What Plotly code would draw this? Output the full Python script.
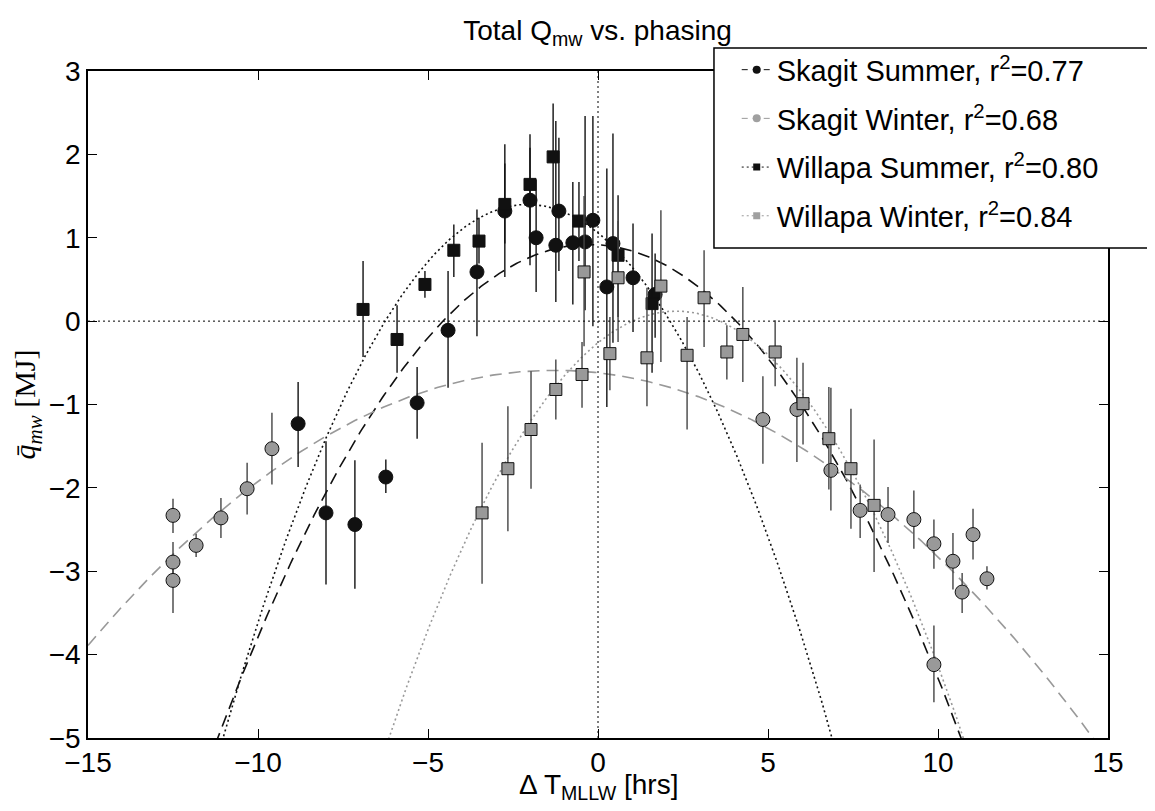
import numpy as np
import plotly.graph_objects as go

# Skagit summer (black circles): x, y, upper / lower end of the error bar
ss_x = [-8.82, -8.00, -7.15, -6.24, -5.32, -4.41, -3.56, -2.74, -2.00, -1.82,
        -1.24, -1.15, -0.74, -0.38, -0.15, 0.26, 0.44, 1.03, 1.68]
ss_y = [-1.23, -2.30, -2.44, -1.87, -0.98, -0.11, 0.59, 1.32, 1.45, 1.00,
        0.91, 1.32, 0.94, 0.95, 1.21, 0.41, 0.93, 0.52, 0.32]
ss_hi = [-0.73, -1.44, -1.67, -1.66, -0.55, 0.60, 1.34, 2.12, 2.24, 1.70,
         2.40, 2.20, 1.67, 2.46, 2.46, 1.83, 2.25, 1.17, 0.81]
ss_lo = [-1.75, -3.16, -3.21, -2.06, -1.41, -0.80, -0.18, 0.53, 0.67, 0.35,
         0.23, 0.60, 0.20, 0.13, -0.06, -1.03, -0.26, -0.13, -0.20]

# Skagit winter (grey circles)
sw_x = [-12.5, -12.5, -12.5, -11.82, -11.09, -10.32, -9.59, 4.85, 5.85, 6.85,
        7.71, 8.53, 9.29, 9.88, 9.88, 10.44, 10.71, 11.03, 11.44]
sw_y = [-2.33, -2.89, -3.11, -2.69, -2.36, -2.01, -1.53, -1.18, -1.06, -1.79,
        -2.27, -2.32, -2.38, -2.67, -4.12, -2.88, -3.25, -2.56, -3.09]
sw_hi = [-2.13, -2.65, -2.95, -2.55, -2.12, -1.70, -1.10, -0.66, -0.44, -0.80,
         -1.96, -1.99, -2.03, -2.38, -3.65, -2.54, -3.02, -2.25, -2.94]
sw_lo = [-2.54, -3.05, -3.50, -2.83, -2.60, -2.32, -1.96, -1.71, -1.69, -2.27,
         -2.60, -2.66, -2.73, -2.97, -4.57, -3.22, -3.50, -2.86, -3.22]

# Willapa summer (black squares)
ws_x = [-6.91, -5.91, -5.09, -4.24, -3.50, -2.74, -2.00, -1.32, -0.56, 0.59, 1.59]
ws_y = [0.14, -0.22, 0.44, 0.85, 0.96, 1.40, 1.64, 1.97, 1.20, 0.79, 0.21]
ws_hi = [0.72, 0.19, 0.60, 1.16, 1.24, 1.89, 2.08, 2.61, 1.67, 1.51, 1.05]
ws_lo = [-0.43, -0.62, 0.28, 0.53, 0.69, 0.93, 0.77, 1.30, 0.72, 0.05, -0.62]

# Willapa winter (grey squares)
ww_x = [-3.41, -2.65, -1.97, -1.24, -0.47, -0.41, 0.35, 0.59, 1.44, 1.85,
        2.62, 3.12, 3.79, 4.26, 5.21, 6.03, 6.79, 7.44, 8.12]
ww_y = [-2.30, -1.77, -1.30, -0.82, -0.64, 0.59, -0.39, 0.52, -0.44, 0.42,
        -0.41, 0.28, -0.37, -0.16, -0.37, -0.99, -1.41, -1.77, -2.21]
ww_hi = [-1.46, -1.02, -0.60, -0.46, -0.25, 1.50, 0.05, 1.20, 0.40, 1.33,
         0.05, 0.85, -0.05, 0.41, 0.01, -0.50, -0.79, -1.05, -1.42]
ww_lo = [-3.15, -2.52, -2.01, -1.18, -1.04, -0.30, -0.83, -0.25, -1.02, -0.49,
         -1.30, -0.31, -0.70, -0.73, -0.78, -1.48, -2.02, -2.49, -3.01]

# quadratic fits, vertex form y = curv*(x-center)^2 + peak
names = ["Skagit Summer", "Skagit Winter", "Willapa Summer", "Willapa Winter"]
r2 = ["0.77", "0.68", "0.80", "0.84"]
fit_center = [-0.25, -1.29, -2.07, 2.30]
fit_peak = [0.92, -0.59, 1.40, 0.12]
fit_curv = [-0.0495, -0.01755, -0.0797, -0.0717]

BLACK = "#111111"
GREY = "#999999"
DASH = "12px,7px"
DOT = "2px,3px"
SANS = "Liberation Sans, Arial"

styles = [
    {"color": BLACK, "dash": DASH, "symbol": "circle", "size": 14, "bar": "#111111"},
    {"color": GREY, "dash": DASH, "symbol": "circle", "size": 14, "bar": "#444444"},
    {"color": BLACK, "dash": DOT, "symbol": "square", "size": 12, "bar": "#111111"},
    {"color": GREY, "dash": DOT, "symbol": "square", "size": 12, "bar": "#444444"},
]
data = [
    (ss_x, ss_y, ss_hi, ss_lo),
    (sw_x, sw_y, sw_hi, sw_lo),
    (ws_x, ws_y, ws_hi, ws_lo),
    (ww_x, ww_y, ww_hi, ww_lo),
]

fig = go.Figure()

xfit = np.linspace(-15, 15, 601)
for i, st in enumerate(styles):
    yfit = fit_curv[i] * (xfit - fit_center[i]) ** 2 + fit_peak[i]
    fig.add_trace(go.Scatter(
        x=xfit, y=yfit, mode="lines", showlegend=False, hoverinfo="skip",
        line={"color": st["color"], "dash": st["dash"], "width": 1.6},
    ))

for i, st in enumerate(styles):
    x, y, hi, lo = data[i]
    plus = [h - v for h, v in zip(hi, y)]
    minus = [v - l for v, l in zip(y, lo)]
    fig.add_trace(go.Scatter(
        x=x, y=y, mode="markers", showlegend=False,
        marker={"symbol": st["symbol"], "size": st["size"], "color": st["color"],
                "line": {"color": "#111111", "width": 1}},
        error_y={"type": "data", "array": plus, "arrayminus": minus,
                 "color": st["bar"], "thickness": 1.4, "width": 0},
    ))

# legend entries (small markers like the original)
for i, st in enumerate(styles):
    fig.add_trace(go.Scatter(
        x=[None], y=[None], mode="lines+markers",
        name=f"{names[i]}, r<sup>2</sup>=" + r2[i],
        legendgroup=names[i],
        line={"color": st["color"], "dash": DOT if st["dash"] == DOT else "6px,5px", "width": 1},
        marker={"symbol": st["symbol"], "size": 8 if st["symbol"] == "circle" else 7,
                "color": "#111111" if st["color"] == BLACK else "#a0a0a0"},
    ))

axis_style = {
    "showgrid": False, "zeroline": False, "showline": True, "linecolor": "black",
    "linewidth": 1.5, "mirror": "ticks", "ticks": "inside", "ticklen": 9,
    "tickcolor": "black", "tickwidth": 1,
    "tickfont": {"family": SANS, "size": 28, "color": "black"},
}

# the page body adds an 8px margin, so the figure is 8px smaller than the window
fig.update_layout(
    width=1147, height=803,
    paper_bgcolor="white", plot_bgcolor="white",
    margin={"l": 80, "r": 47, "t": 63, "b": 73, "autoexpand": False},
    title={"text": "Total Q<sub>mw</sub> vs. phasing", "x": 0.514, "xanchor": "center",
           "y": 0.972, "yanchor": "middle",
           "font": {"family": SANS, "size": 28, "color": "black"}},
    xaxis={**axis_style, "range": [-15, 15], "tickvals": [-15, -10, -5, 0, 5, 10, 15],
           "ticklabelstandoff": -1},
    yaxis={**axis_style, "range": [-5, 3], "tickvals": list(range(-5, 4)),
           "title": {"text": "<i>q̄</i><sub><i>mw</i></sub> [MJ]", "standoff": 4,
                     "font": {"family": "Liberation Serif, DejaVu Serif", "size": 30, "color": "black"}}},
    legend={"x": 0.636, "y": 1.04, "xanchor": "left", "yanchor": "top",
            "bgcolor": "rgba(0,0,0,0)", "borderwidth": 0, "traceorder": "grouped",
            "tracegroupgap": 8,
            "font": {"family": SANS, "size": 29, "color": "black"}},
    annotations=[{"text": "Δ T<sub>MLLW</sub> [hrs]", "xref": "paper", "yref": "paper",
                  "x": 0.5, "y": -0.072, "xanchor": "center", "yanchor": "middle",
                  "showarrow": False, "font": {"family": SANS, "size": 28, "color": "black"}}],
    showlegend=True,
)

fig.add_hline(y=0, line={"color": "black", "width": 1, "dash": "2px,3px"})
fig.add_vline(x=0, line={"color": "black", "width": 1, "dash": "2px,3px"})
fig.add_shape(type="rect", xref="paper", yref="paper",
              x0=0.6137, x1=1.12, y0=0.7346, y1=1.0345,
              fillcolor="white", line={"color": "black", "width": 1.5}, layer="above")

fig.write_html("out.html")
